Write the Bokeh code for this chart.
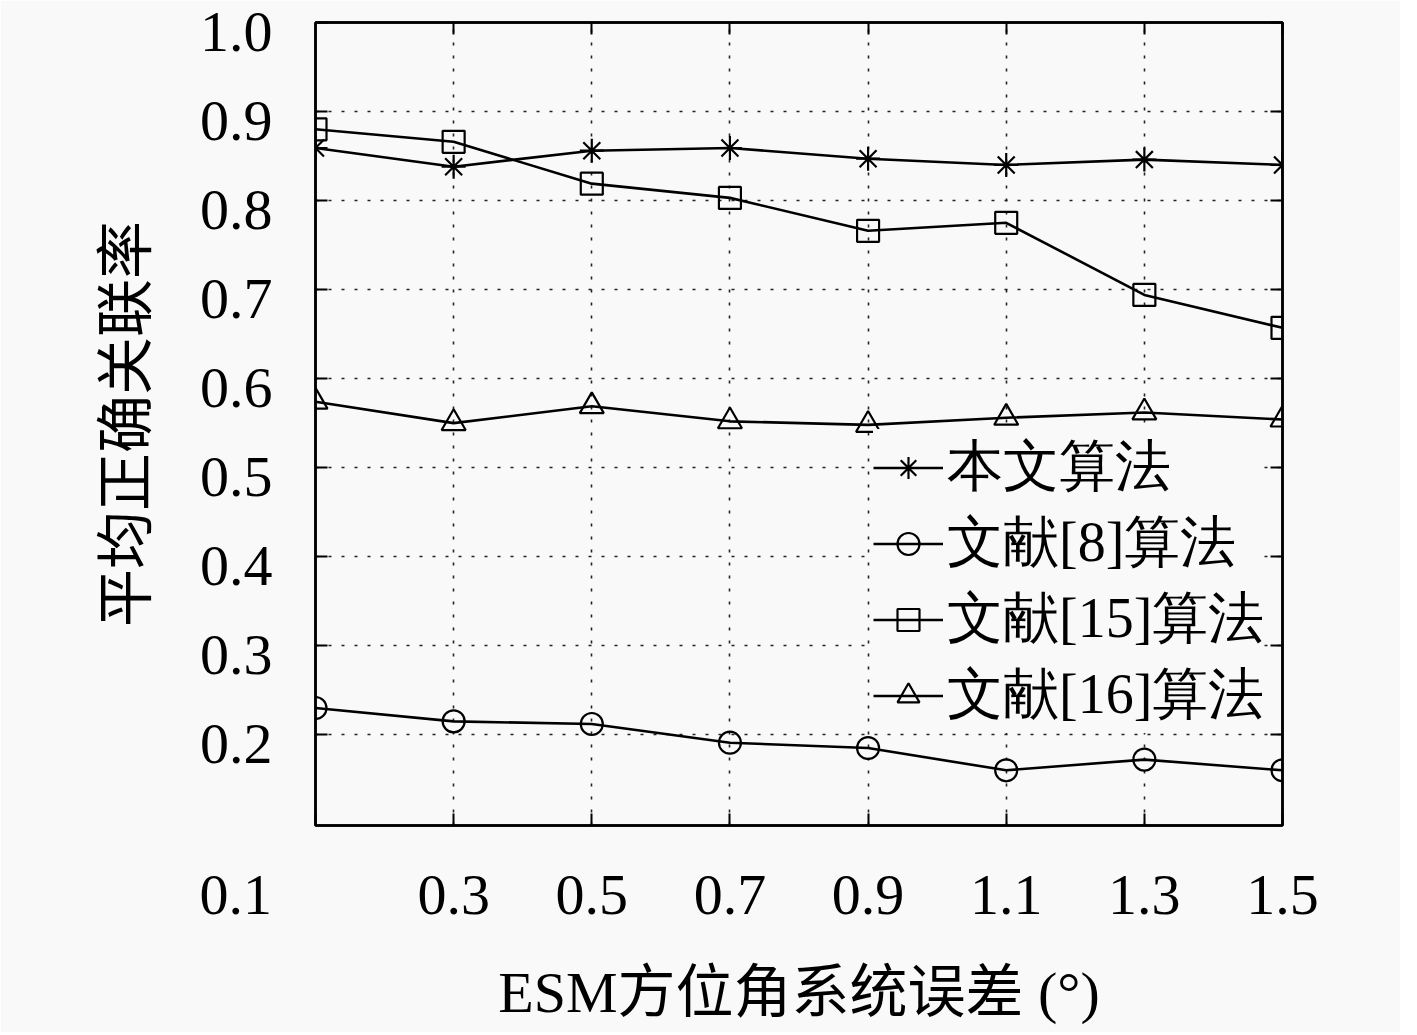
from bokeh.plotting import figure
from bokeh.models import FixedTicker, LinearAxis, Legend, LegendItem, Range1d
from bokeh.embed import file_html
from bokeh.resources import INLINE

# ---- data ----
x_vals = [0.1, 0.3, 0.5, 0.7, 0.9, 1.1, 1.3, 1.5]
ours = [0.859, 0.838, 0.856, 0.859, 0.847, 0.840, 0.846, 0.840]
ref8 = [0.230, 0.215, 0.212, 0.191, 0.185, 0.160, 0.172, 0.160]
ref15 = [0.880, 0.866, 0.819, 0.803, 0.766, 0.775, 0.694, 0.657]
ref16 = [0.574, 0.550, 0.569, 0.552, 0.548, 0.556, 0.562, 0.554]

series_names = ["本文算法", "文献[8]算法", "文献[15]算法", "文献[16]算法"]
x_ticks = [0.1, 0.3, 0.5, 0.7, 0.9, 1.1, 1.3, 1.5]
x_tick_labels = ["0.1", "0.3", "0.5", "0.7", "0.9", "1.1", "1.3", "1.5"]
y_ticks = [0.2, 0.3, 0.4, 0.5, 0.6, 0.7, 0.8, 0.9, 1.0]
y_tick_labels = ["0.2", "0.3", "0.4", "0.5", "0.6", "0.7", "0.8", "0.9", "1.0"]
x_title = "ESM方位角系统误差 (°)"
y_title = "平均正确关联率"

Y0, Y1 = 0.098, 1.0
BG = "#f9f9f9"
FONT = "'Liberation Serif', 'Noto Sans CJK SC'"
NUM_FONT = "Liberation Serif"
FS = "58px"

p = figure(width=1400, height=1032,
           x_range=Range1d(0.1, 1.5), y_range=Range1d(Y0, Y1),
           output_backend="svg", toolbar_location=None,
           min_border_left=315, min_border_right=118,
           min_border_top=22, min_border_bottom=207,
           background_fill_color=BG, border_fill_color=BG)

p.outline_line_color = "black"
p.outline_line_width = 2.5

def style_axis(ax, show_labels=True):
    ax.axis_line_width = 2.5
    ax.axis_line_color = "black"
    ax.major_tick_in = 12
    ax.major_tick_out = 0
    ax.major_tick_line_width = 2
    ax.major_tick_line_color = "black"
    ax.minor_tick_line_color = None
    ax.major_label_text_font = NUM_FONT
    ax.major_label_text_color = "black"
    if show_labels:
        ax.major_label_text_font_size = FS
    else:
        ax.major_label_text_font_size = "0px"
        ax.major_label_standoff = 0

# bottom axis: ticks + labels
p.xaxis.ticker = FixedTicker(ticks=x_ticks)
xo = dict(zip(x_ticks, x_tick_labels))
# the first x label sits to the left of the axis corner in the original
xo[x_ticks[0]] = x_tick_labels[0] + "\u00a0" * 11
p.xaxis.major_label_overrides = xo
style_axis(p.xaxis[0])
p.xaxis.major_label_standoff = 36
p.xaxis.axis_label = x_title
p.xaxis.axis_label_standoff = 30

# left axis: tick marks only (labels drawn by a second axis set slightly lower)
p.yaxis.ticker = FixedTicker(ticks=y_ticks)
style_axis(p.yaxis[0], False)

# label axis: range shifted by ~9px so labels sit a bit below their gridlines
shift = 0.0101
p.extra_y_ranges = {"ylab": Range1d(Y0 + shift, Y1 + shift)}
lab_ax = LinearAxis(y_range_name="ylab", ticker=FixedTicker(ticks=y_ticks))
lab_ax.major_label_overrides = dict(zip(y_ticks, y_tick_labels))
lab_ax.major_label_text_font = NUM_FONT
lab_ax.major_label_text_font_size = FS
lab_ax.major_label_text_color = "black"
lab_ax.axis_line_color = None
lab_ax.major_tick_line_color = None
lab_ax.minor_tick_line_color = None
lab_ax.major_tick_in = 0
lab_ax.major_tick_out = 0
lab_ax.major_label_standoff = 43
lab_ax.axis_label = y_title
lab_ax.axis_label_standoff = 38
p.add_layout(lab_ax, "left")

for ax in (p.xaxis[0], lab_ax):
    ax.axis_label_text_font = FONT
    ax.axis_label_text_font_size = "58px"
    ax.axis_label_text_font_style = "normal"
    ax.axis_label_text_color = "black"

top_ax = LinearAxis(ticker=FixedTicker(ticks=x_ticks[1:]))
right_ax = LinearAxis(ticker=FixedTicker(ticks=y_ticks))
style_axis(top_ax, False)
style_axis(right_ax, False)
p.add_layout(top_ax, "above")
p.add_layout(right_ax, "right")

p.xgrid.ticker = FixedTicker(ticks=x_ticks[1:-1])
p.ygrid.ticker = FixedTicker(ticks=y_ticks[:-1])
for g in (p.xgrid, p.ygrid):
    g.grid_line_color = "#222222"
    g.grid_line_width = 1.6
    g.grid_line_dash = "3 10"

LW = 2.6
MLW = 2.2
l1 = p.line(x_vals, ours, line_color="black", line_width=LW)
m1 = p.scatter(x_vals, ours, marker="asterisk", size=24, line_color="black", line_width=MLW)
l2 = p.line(x_vals, ref8, line_color="black", line_width=LW)
m2 = p.scatter(x_vals, ref8, marker="circle", size=22, line_color="black",
               fill_color=None, line_width=MLW)
l3 = p.line(x_vals, ref15, line_color="black", line_width=LW)
m3 = p.scatter(x_vals, ref15, marker="square", size=22, line_color="black",
               fill_color=None, line_width=MLW)
l4 = p.line(x_vals, ref16, line_color="black", line_width=LW)
m4 = p.scatter(x_vals, ref16, marker="triangle", size=24, line_color="black",
               fill_color=None, line_width=MLW)

legend = Legend(items=[
    LegendItem(label=series_names[0], renderers=[l1, m1]),
    LegendItem(label=series_names[1], renderers=[l2, m2]),
    LegendItem(label=series_names[2], renderers=[l3, m3]),
    LegendItem(label=series_names[3], renderers=[l4, m4]),
], location=(558, 92))
legend.label_text_font = NUM_FONT
legend.label_text_font_size = "56px"
legend.label_text_color = "black"
legend.glyph_width = 70
legend.glyph_height = 55
legend.label_height = 50
legend.spacing = 0
legend.padding = 0
legend.margin = 0
legend.label_standoff = 4
legend.border_line_color = None
legend.background_fill_color = BG
legend.background_fill_alpha = 1.0
p.add_layout(legend)

open("out.html", "w").write(file_html(p, INLINE))
